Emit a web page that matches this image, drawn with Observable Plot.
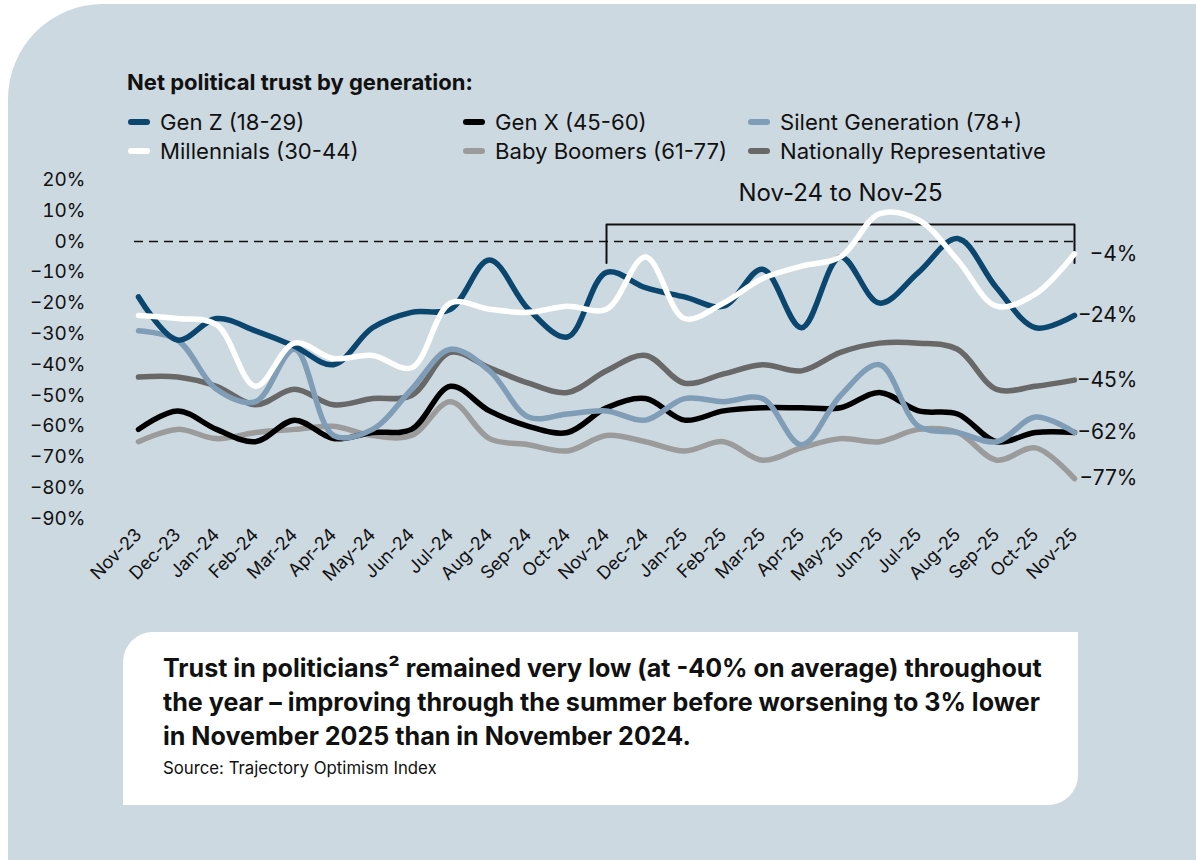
<!DOCTYPE html>
<html><head><meta charset="utf-8">
<script src="https://cdn.jsdelivr.net/npm/d3@7"></script>
<script src="https://cdn.jsdelivr.net/npm/@observablehq/plot@0.6"></script>
<style>
html,body{margin:0;padding:0;background:#fff;width:1196px;height:860px;overflow:hidden;font-family:Inter,"Open Sans",sans-serif;color:#111;}
#panel{position:absolute;left:8px;top:4px;right:0;bottom:0;background:#cdd9e1;border-top-left-radius:95px;}
#chart{position:absolute;left:0;top:0;}
#ltitle{position:absolute;left:127px;top:70px;font-weight:700;font-size:19px;line-height:24px;white-space:nowrap;}
.li{position:absolute;white-space:nowrap;font-size:17px;line-height:22px;}
.sw{position:absolute;width:22px;height:6px;border-radius:3px;}
#cap{position:absolute;left:123px;top:632px;width:955px;height:173px;background:#fff;border-top-left-radius:30px;border-bottom-right-radius:30px;}
.cl{position:absolute;left:40px;font-weight:700;font-size:21px;line-height:30px;white-space:nowrap;}
#src{position:absolute;left:40px;top:127px;font-size:14px;line-height:18px;white-space:nowrap;}
</style>
</head><body>
<div id="panel"></div>
<div id="chart"></div>
<div id="ltitle">Net political trust by generation:</div>
<div id="legend"></div>
<div id="cap">
  <div class="cl" style="top:21px">Trust in politicians² remained very low (at -40% on average) throughout</div>
  <div class="cl" style="top:55px">the year – improving through the summer before worsening to 3% lower</div>
  <div class="cl" style="top:89px">in November 2025 than in November 2024.</div>
  <div id="src">Source: Trajectory Optimism Index</div>
</div>
<script>
const months = ["Nov-23","Dec-23","Jan-24","Feb-24","Mar-24","Apr-24","May-24","Jun-24","Jul-24","Aug-24","Sep-24","Oct-24","Nov-24","Dec-24","Jan-25","Feb-25","Mar-25","Apr-25","May-25","Jun-25","Jul-25","Aug-25","Sep-25","Oct-25","Nov-25"];
const seriesNames = ["Gen Z (18-29)","Millennials (30-44)","Gen X (45-60)","Baby Boomers (61-77)","Silent Generation (78+)","Nationally Representative"];
const seriesColors = ["#0a466e","#ffffff","#000000","#9b9b9b","#7f9db6","#686868"];
const genZ        = [-18,-32,-25,-29,-34,-40,-28,-23,-22,-6,-22,-31,-10,-15,-18,-21,-9,-28,-5,-20,-10,1,-15,-28,-24];
const millennials = [-24,-25,-27,-47,-33,-38,-37,-41,-20,-22,-23,-21,-22,-5,-25,-20,-12,-8,-5,9,7,-6,-21,-17,-4];
const genX        = [-61,-55,-61,-65,-58,-64,-62,-61,-47,-55,-60,-62,-54,-51,-58,-55,-54,-54,-54,-49,-55,-56,-65,-62,-62];
const boomers     = [-65,-61,-64,-62,-61,-60,-63,-63,-52,-64,-66,-68,-63,-65,-68,-65,-71,-67,-64,-65,-61,-62,-71,-67,-77];
const silent      = [-29,-32,-48,-52,-35,-63,-61,-48,-35,-42,-57,-56,-55,-58,-51,-52,-51,-66,-50,-40,-60,-62,-65,-57,-62];
const natRep      = [-44,-44,-47,-53,-48,-53,-51,-50,-36,-41,-46,-49,-42,-37,-46,-43,-40,-42,-36,-33,-33,-35,-48,-47,-45];
const yTicks = [20,10,0,-10,-20,-30,-40,-50,-60,-70,-80,-90];
const bracketLabel = "Nov-24 to Nov-25";
const bracketStart = "Nov-24", bracketEnd = "Nov-25";
const bracketTop = 5.5, bracketBottom = -7, bracketLabelY = 15.5, bracketLabelAt = "May-25";

const seriesValues = [genZ, millennials, genX, boomers, silent, natRep];
const drawOrder = [3,2,5,4,0,1];
const rows = [];
for (const s of drawOrder) months.forEach((m,i)=>rows.push({month:m, value:seriesValues[s][i], series:seriesNames[s]}));
const ends = [0,1,2,3,5].map(s=>({month:months[months.length-1], value:seriesValues[s][months.length-1]}));
const bracket = [{month:bracketStart,value:bracketBottom},{month:bracketStart,value:bracketTop},{month:bracketEnd,value:bracketTop},{month:bracketEnd,value:bracketBottom}];
const pct = d => (d<0?"\u2212":"") + Math.abs(d) + "%";

const H = 620;
const chart = Plot.plot({
  width:1196, height:H,
  marginLeft:134, marginRight:118, marginTop:179.4, marginBottom:H-518.2,
  style:{background:"transparent", fontFamily:"Inter, 'Open Sans', sans-serif", color:"#111"},
  x:{type:"point", domain:months, padding:0, label:null},
  y:{domain:[-90,20], label:null},
  color:{domain:seriesNames, range:seriesColors},
  marks:[
    Plot.axisY(yTicks,{tickSize:0, tickPadding:49, tickFormat:pct, fontSize:19, fill:"#111", label:null}),
    Plot.axisX({tickSize:0, tickRotate:-45, tickPadding:13, fontSize:18, fill:"#111", label:null}),
    Plot.ruleY([0],{stroke:"#111", strokeWidth:1.5, strokeDasharray:"9,6"}),
    Plot.line(bracket,{x:"month", y:"value", stroke:"#111", strokeWidth:2, curve:"linear"}),
    Plot.text([bracketLabel],{x:()=>bracketLabelAt, y:()=>bracketLabelY, text:d=>d, fontSize:24, fill:"#111"}),
    Plot.line(rows,{x:"month", y:"value", z:"series", stroke:"series", strokeWidth:5.5, curve:"catmull-rom", strokeLinecap:"round", strokeLinejoin:"round"}),
    Plot.text(ends,{x:"month", y:"value", text:d=>pct(d.value), dx:63, textAnchor:"end", fontSize:21, fill:"#111"})
  ]
});
document.getElementById("chart").appendChild(chart);

// legend
const leg = document.getElementById("legend");
const cols = [128,463,748], rowY = [122,151];
const legOrder = [0,2,4,1,3,5];
legOrder.forEach((s,k)=>{
  const c = k%3, r = Math.floor(k/3);
  const sw = document.createElement("div"); sw.className="sw";
  sw.style.left=cols[c]+"px"; sw.style.top=(rowY[r]-3)+"px"; sw.style.background=seriesColors[s];
  leg.appendChild(sw);
  const t = document.createElement("div"); t.className="li"; t.textContent=seriesNames[s];
  t.style.left=(cols[c]+32)+"px"; t.style.top=(rowY[r]-11)+"px";
  leg.appendChild(t);
});
// fit widths
function fit(refEl, target, group){
  const w = refEl.getBoundingClientRect().width;
  const f = parseFloat(getComputedStyle(refEl).fontSize)*target/w;
  group.forEach(el=>{el.style.fontSize=f+"px";});
}
fit(document.getElementById("ltitle"),346,[document.getElementById("ltitle")]);
const lis=[...document.querySelectorAll(".li")];
fit(lis[5],266,lis);
const cls=[...document.querySelectorAll(".cl")];
fit(cls[0],879,cls);
fit(document.getElementById("src"),274,[document.getElementById("src")]);
</script>
</body></html>
